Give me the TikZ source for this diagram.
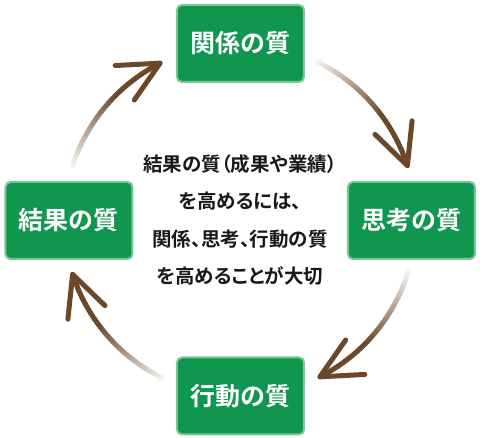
\documentclass[tikz,border=0pt]{standalone}
\usepackage{fontspec}
\setmainfont{Noto Sans CJK JP}
\newfontfamily\jpbold{Noto Sans CJK JP Bold}
\newfontfamily\jpboldp{Noto Sans CJK JP Bold}[RawFeature=+palt]
\definecolor{qgreen}{RGB}{17,150,79}
\definecolor{qrim}{RGB}{120,200,150}
\definecolor{qbrown}{RGB}{107,72,42}
\definecolor{qtext}{RGB}{25,25,25}
\tikzset{
  qbox/.style={rounded corners=5pt, minimum width=127pt, minimum height=77pt,
    fill=qgreen, draw=qrim, line width=2pt, text=white,
    font=\jpbold\fontsize{25}{30}\selectfont, inner sep=0pt},
  qline/.style={line width=5pt, line cap=round, line join=round},
}
\newcommand\qarrow[2]{%
  \foreach \i in {0,...,39}{%
    \pgfmathsetmacro\qa{#1+(#2-#1)*\i/40}%
    \pgfmathsetmacro\qb{#1+(#2-#1)*(\i+1)/40}%
    \pgfmathsetmacro\qp{min(100,6+94*\i/24)}%
    \draw[qline, draw=qbrown!\qp!white] (\qa:176) arc[start angle=\qa, end angle=\qb, radius=176];
  }%
  \pgfmathsetmacro\qd{#2+92}%
  \draw[qline, draw=qbrown] ([shift={(#2:176)}]\qd+26:45) -- (#2:176) -- ([shift={(#2:176)}]\qd-26:45);
}
\begin{document}
\begin{tikzpicture}[x=1pt,y=1pt]
\useasboundingbox (-240,-218) rectangle (240,220);
\fill[white] (-240,-218) rectangle (240,220);
\qarrow{64}{18}
\qarrow{-17}{-63}
\qarrow{-116}{-162}
\qarrow{162}{117}
\node[qbox] (rel) at (0.5,176.5) {関係の質};
\node[qbox] (thk) at (171.5,-0.5) {思考の質};
\node[qbox] (act) at (0.5,-176) {行動の質};
\node[qbox] (res) at (-171,-0.5) {結果の質};
\node[align=center, text=qtext, font=\jpboldp\fontsize{19.5}{37.5}\selectfont, inner sep=0pt] (msg) at (0,0)
  {結果の質（成果や業績）\\を高めるには、\\関係、思考、行動の質\\を高めることが大切};
\end{tikzpicture}
\end{document}
